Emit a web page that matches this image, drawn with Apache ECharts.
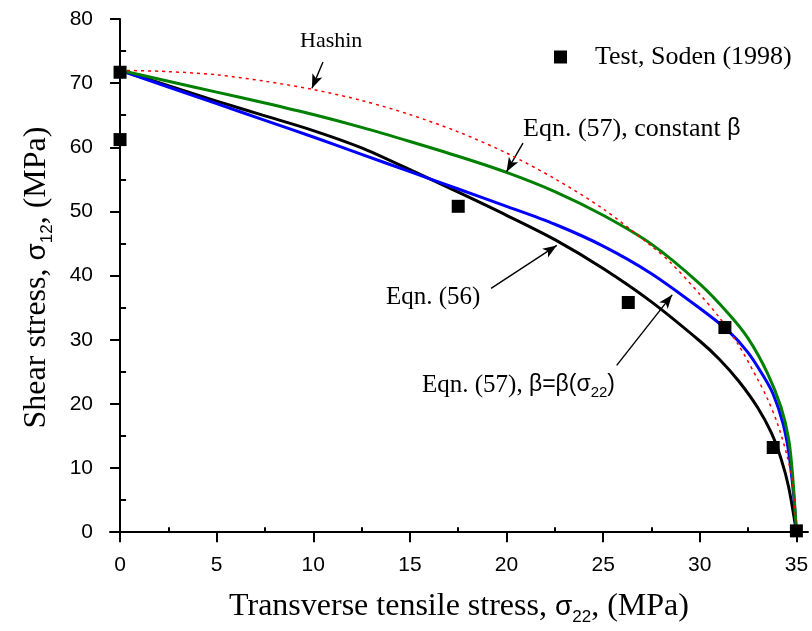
<!DOCTYPE html>
<html>
<head>
<meta charset="utf-8">
<script src="https://cdn.jsdelivr.net/npm/echarts@6/dist/echarts.min.js"></script>
<style>
  html, body { margin: 0; padding: 0; background: #fff; }
  #chart { width: 812px; height: 631px; }
</style>
</head>
<body>
<div id="chart"></div>
<script>
// values: [sigma22, sigma12] in MPa
let testData = [[0, 71.7], [0, 61.2], [17.5, 50.8], [26.3, 35.8], [31.3, 31.9], [33.8, 13.2], [35, 0.2]];

let eqn56 = [[0, 72], [2.5, 69.6], [5, 67.2], [7.5, 64.9], [10, 62.6], [12.5, 59.9], [15, 56.5],
    [17.5, 53], [20, 49.4], [22.5, 45.6], [25, 41.1], [27.5, 35.9], [30, 29.8], [31, 27],
    [32, 23.6], [33, 19.4], [33.7, 15.5], [34.2, 11.5], [34.6, 7], [35, 0]];

let eqn57beta = [[0, 72], [2.5, 69.4], [5, 66.8], [7.5, 64.2], [10, 61.6], [12.5, 58.9], [15, 56.2],
    [17.5, 53.5], [20, 50.8], [22.5, 48], [25, 44.6], [27.5, 40.3], [30, 34.9], [31.5, 31.3],
    [32.5, 28], [33.3, 24.3], [33.8, 21.5], [34.3, 17], [34.6, 12.5], [34.85, 6], [35, 0]];

let eqn57const = [[0, 72], [2.5, 70.3], [5, 68.6], [7.5, 66.9], [10, 65.1], [12.5, 63.1], [15, 60.9],
    [17.5, 58.6], [20, 56.1], [22.5, 53.1], [25, 49.4], [27.5, 44.9], [30, 38.7], [31.5, 34],
    [32.5, 30.2], [33.5, 24.8], [34.2, 19.5], [34.6, 14.5], [34.8, 9], [35, 0]];

let hashin = [[0, 72], [2.5, 71.8], [5, 71.3], [7.5, 70.3], [10, 69], [12.5, 67.3], [15, 65.1],
    [17.5, 62.4], [20, 59.1], [22.5, 55.1], [25, 50.4], [27.5, 44.6], [28.5, 42], [30, 37.1],
    [31, 33.5], [32, 29.2], [33, 23.8], [33.5, 20.8], [34, 17.1], [34.5, 12.1], [34.8, 7.7], [35, 0]];

let xTicks = [0, 5, 10, 15, 20, 25, 30, 35];
let xMinorTicks = [2.5, 7.5, 12.5, 17.5, 22.5, 27.5, 32.5];
let yTicks = [0, 10, 20, 30, 40, 50, 60, 70, 80];
let yMinorTicks = [5, 15, 25, 35, 45, 55, 65, 75];

// annotation arrows: [from, to] in data units
let arrows = [
    [[10.5, 73.3], [9.93, 69.2]],
    [[20.85, 60.65], [20.0, 56.2]],
    [[19.2, 38.0], [22.6, 44.7]],
    [[25.7, 26.0], [28.57, 37.0]],
];

let serif = 'Liberation Serif';
let sans = 'Liberation Sans';

function majorAxis(type, min, max, ticks) {
    return {
        type: 'value',
        min: min,
        max: max,
        splitLine: { show: false },
        axisLine: { show: true, lineStyle: { color: '#000', width: 2 } },
        axisTick: { show: true, inside: false, length: 10, customValues: ticks, lineStyle: { color: '#000', width: 2 } },
        axisLabel: { customValues: ticks, color: '#000', fontFamily: sans, fontSize: 21, margin: type === 'x' ? 19 : 17 },
    };
}

function minorAxis(min, max, ticks, len) {
    return {
        type: 'value',
        min: min,
        max: max,
        splitLine: { show: false },
        axisLine: { show: false },
        axisTick: { show: true, inside: false, length: len, customValues: ticks, lineStyle: { color: '#000', width: 2 } },
        axisLabel: { show: false },
    };
}

let subRich = {
    n: { fontFamily: serif, fontSize: 32, lineHeight: 38, color: '#000' },
    s: { fontFamily: sans, fontSize: 17, lineHeight: 16, verticalAlign: 'bottom', color: '#000' },
    g: { fontFamily: sans, fontSize: 28, lineHeight: 38, color: '#000' },
};

let annRich = {
    n: { fontFamily: serif, fontSize: 25, lineHeight: 30, color: '#000' },
    m: { fontFamily: serif, fontSize: 26, lineHeight: 30, color: '#000' },
    h: { fontFamily: serif, fontSize: 22, lineHeight: 30, color: '#000' },
    s: { fontFamily: sans, fontSize: 15, lineHeight: 13, verticalAlign: 'bottom', color: '#000' },
    g: { fontFamily: sans, fontSize: 23, lineHeight: 30, color: '#000' },
};

let xAxisMain = majorAxis('x', -0.52, 35.6, xTicks);
xAxisMain.name = '{n|Transverse tensile stress, }{g|σ}{s|22}{n|, (MPa)}';
xAxisMain.nameLocation = 'middle';
xAxisMain.nameGap = 52;
xAxisMain.nameTextStyle = { rich: subRich };

let yAxisMain = majorAxis('y', -0.6, 80, yTicks);
yAxisMain.name = '{n|Shear stress, }{g|σ}{s|12}{n|, (MPa)}';
yAxisMain.nameLocation = 'middle';
yAxisMain.nameGap = 54;
yAxisMain.nameTextStyle = { rich: subRich };

function curve(name, data, color, width, dash, z) {
    return {
        name: name,
        type: 'line',
        data: data,
        showSymbol: false,
        smooth: 0.3,
        z: z,
        lineStyle: { color: color, width: width, type: dash, join: 'round' },
        itemStyle: { color: color },
        silent: true,
    };
}

let option = {
    animation: false,
    backgroundColor: '#fff',
    grid: { left: 110, right: 4, top: 19, bottom: 94 },
    xAxis: [xAxisMain, minorAxis(-0.52, 35.6, xMinorTicks, 5)],
    yAxis: [yAxisMain, minorAxis(-0.6, 80, yMinorTicks, 6)],
    legend: {
        data: ['Test, Soden (1998)'],
        left: 549,
        top: 39,
        itemWidth: 13,
        itemHeight: 13,
        textStyle: { fontFamily: serif, fontSize: 26, color: '#000', padding: [0, 0, 0, 23] },
    },
    graphic: [
        { type: 'text', x: 300, y: 41, style: { text: '{h|Hashin}', rich: annRich, verticalAlign: 'middle' } },
        { type: 'text', x: 523, y: 129, style: { text: '{m|Eqn. (57), constant }{g|β}', rich: annRich, verticalAlign: 'middle' } },
        { type: 'text', x: 386, y: 297, style: { text: '{n|Eqn. (56)}', rich: annRich, verticalAlign: 'middle' } },
        { type: 'text', x: 422, y: 385, style: { text: '{n|Eqn. (57), }{g|β=β(σ}{s|22}{g|)}', rich: annRich, verticalAlign: 'middle' } },
    ],
    series: [
        curve('Eqn. (56)', eqn56, '#000000', 3, 'solid', 2),
        curve('Eqn. (57), beta(s22)', eqn57beta, '#0000ff', 3, 'solid', 3),
        curve('Eqn. (57), constant beta', eqn57const, '#008000', 3, 'solid', 4),
        curve('Hashin', hashin, '#ff0000', 1.5, [3, 4], 5),
        {
            name: 'annotations',
            type: 'line',
            data: [],
            silent: true,
            markLine: {
                silent: true,
                animation: false,
                symbol: ['none', 'arrow'],
                symbolSize: [8, 14],
                label: { show: false },
                lineStyle: { color: '#000', width: 1.4, type: 'solid' },
                data: arrows.map(function (a) {
                    return [{ coord: a[0] }, { coord: a[1] }];
                }),
            },
        },
        {
            name: 'Test, Soden (1998)',
            type: 'scatter',
            data: testData,
            symbol: 'rect',
            symbolSize: 13,
            z: 6,
            itemStyle: { color: '#000', opacity: 1 },
        },
    ],
};

let chart = echarts.init(document.getElementById('chart'));
chart.setOption(option);
</script>
</body>
</html>
